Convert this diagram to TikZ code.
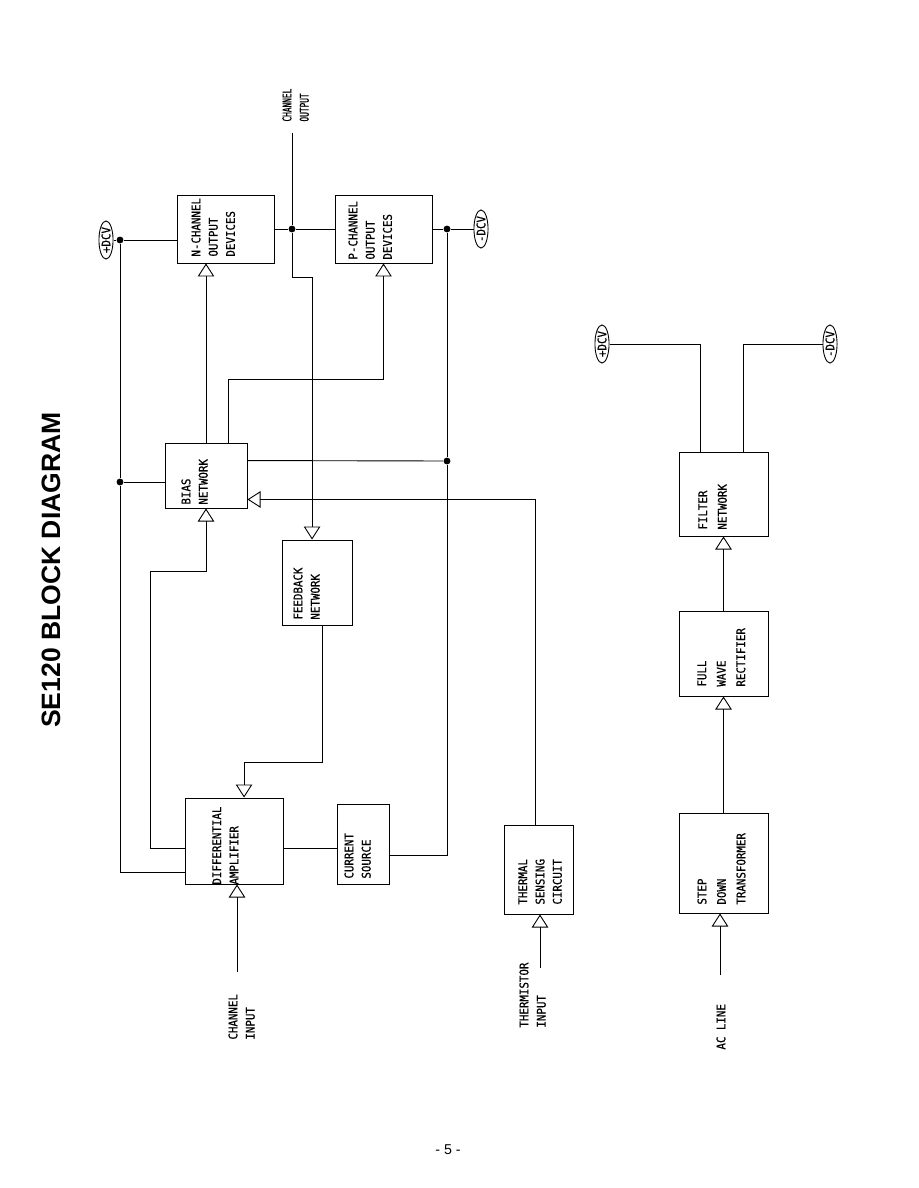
\documentclass[tikz,border=0pt]{standalone}
\usepackage{fontspec}
\setmainfont{Liberation Sans}
\newfontfamily\plotfont[FakeStretch=0.9,FakeBold=0.6]{DejaVu Sans Mono}
\newfontfamily\narrowfont[FakeStretch=0.65,FakeBold=0.8]{DejaVu Sans Mono}
\usetikzlibrary{positioning,fit,arrows.meta,shapes.geometric}

\tikzset{
  blk/.style={draw,line width=0.6pt,inner sep=0pt},
  lbl/.style={rotate=90,anchor=north west,align=left,inner sep=0pt,font=\plotfont\fontsize{8}{11.5}\selectfont},
  psl/.style={lbl,font=\plotfont\fontsize{8}{13}\selectfont},
  arr/.style={-{Triangle[open,length=8.7pt,width=11pt]}},
  jn/.style={circle,fill,inner sep=0pt,minimum size=4.6pt},
  dcv/.style={ellipse,draw,line width=0.6pt,rotate=90,inner sep=0.3pt,font=\plotfont\fontsize{8}{8}\selectfont},
}

\begin{document}
\begin{tikzpicture}[x=0.6667pt,y=-0.6667pt,line width=0.6pt]
\fill[white] (0,0) rectangle (918,1188);
\useasboundingbox (0,0) rectangle (918,1188);

\node[rotate=90,font=\bfseries\fontsize{17.7}{20}\selectfont] (title) at (51,570) {SE120 BLOCK DIAGRAM};
\node[font=\fontsize{9.5}{11}\selectfont] (page) at (448,1150) {- 5 -};

\node[blk,fit={(177,195) (274,263)}] (nch) {};
\node[blk,fit={(335,195) (432,263)}] (pch) {};
\node[blk,fit={(165,443) (247,508)}] (bias) {};
\node[blk,fit={(282,540) (352,625)}] (fb) {};
\node[blk,fit={(185,798) (283,884)}] (diff) {};
\node[blk,fit={(337,804) (389,884)}] (cs) {};
\node[blk,fit={(504,825) (573,914)}] (ts) {};
\node[blk,fit={(679,452) (768,536)}] (filt) {};
\node[blk,fit={(679,611) (768,696)}] (rect) {};
\node[blk,fit={(679,813) (768,913)}] (xf) {};

\node[lbl] (nchT) at (191,257) {N-CHANNEL\\OUTPUT\\DEVICES};
\node[lbl] (pchT) at (348,260) {P-CHANNEL\\OUTPUT\\DEVICES};
\node[lbl] (biasT) at (181,505) {BIAS\\NETWORK};
\node[lbl] (fbT) at (293,620) {FEEDBACK\\NETWORK};
\node[lbl] (diffT) at (212,885) {DIFFERENTIAL\\AMPLIFIER};
\node[lbl] (csT) at (344,879) {CURRENT\\SOURCE};
\node[lbl] (tsT) at (518,905) {THERMAL\\SENSING\\CIRCUIT};
\node[psl] (filtT) at (698,530) {FILTER\\NETWORK};
\node[psl] (rectT) at (697,687) {FULL\\WAVE\\RECTIFIER};
\node[psl] (xfT) at (697,905) {STEP\\DOWN\\TRANSFORMER};

\node[lbl,font=\narrowfont\fontsize{8}{11.5}\selectfont] (choutT) at (282,122) {CHANNEL\\OUTPUT};
\node[lbl] (chinT) at (228,1040) {CHANNEL\\INPUT};
\node[lbl] (thinT) at (519,1028) {THERMISTOR\\INPUT};
\node[lbl] (acT) at (716,1050) {AC LINE};

\node[dcv] (pdcv) at (106,240) {+DCV};
\node[dcv] (mdcv) at (481,229) {-DCV};
\node[dcv] (pdcv2) at (602,344) {+DCV};
\node[dcv] (mdcv2) at (830,344) {-DCV};

\node[jn] (jp1) at (120,240) {};
\node[jn] (jp2) at (120,482) {};
\node[jn] (jout) at (292,229) {};
\node[jn] (jn1) at (447,229) {};
\node[jn] (jm) at (447,461) {};

\coordinate (outtop) at (292,133);
\coordinate (chin) at (237,972);
\coordinate (thin) at (540,968);
\coordinate (acin) at (720,975);
\coordinate (dcs) at ([yshift=24pt]diff.south east);

\draw (pdcv) -- (jp1) -- (jp1 -| nch.west);
\draw (jp1) -- (jp2) -- (jp2 -| bias.west);
\draw (jp2) |- ([yshift=8pt]diff.south west);
\draw (nch.east) -- (jout) -- (pch.west);
\draw (outtop) -- (jout);
\draw[arr] (jout) -- ++(0,48) -| ([xshift=-3.3pt]fb.north);
\draw[arr] ([xshift=3.3pt]fb.south) -- ++(0,137) -| ([xshift=6.7pt]diff.north);
\draw[arr] ([yshift=24pt]diff.south west) -| ++(-34,-277) -| (bias.south);
\draw[arr] (bias.north) -- (bias.north |- nch.south);
\draw[arr] ([xshift=14.7pt]bias.north) -- ++(0,-63) -| (pch.south);
\draw ([yshift=-12pt]bias.north east) -- (jm);
\draw (pch.east) -- (jn1) -- (mdcv);
\draw (jn1) -- (jm) |- ([yshift=19.3pt]cs.south east);
\draw (dcs) -- (dcs -| cs.west);
\draw[arr] (chin) -- (chin |- diff.south);
\draw[arr] (thin) -- (thin |- ts.south);
\draw[arr] ([xshift=-2.3pt]ts.north) |- ([yshift=6pt]bias.south east);

\draw[arr] (acin) -- (acin |- xf.south);
\draw[arr] (xf.north) -- (rect.south);
\draw[arr] (rect.north) -- (filt.south);
\draw ([xshift=-15.7pt]filt.north) |- (pdcv2);
\draw ([xshift=13pt]filt.north) |- (mdcv2);
\end{tikzpicture}
\end{document}
